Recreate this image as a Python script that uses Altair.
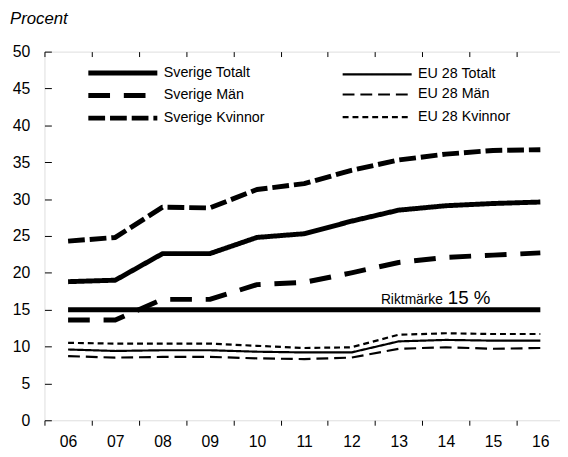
import altair as alt
import pandas as pd

years = ["06", "07", "08", "09", "10", "11", "12", "13", "14", "15", "16"]
sverige_totalt = [18.8, 19.0, 22.6, 22.6, 24.8, 25.3, 27.0, 28.5, 29.1, 29.4, 29.6]
sverige_man = [13.6, 13.6, 16.4, 16.4, 18.4, 18.7, 20.0, 21.4, 22.1, 22.4, 22.7]
sverige_kvinnor = [24.3, 24.8, 28.9, 28.8, 31.3, 32.1, 33.9, 35.3, 36.1, 36.6, 36.7]
eu_totalt = [9.6, 9.4, 9.5, 9.5, 9.3, 9.2, 9.2, 10.7, 10.9, 10.8, 10.8]
eu_man = [8.7, 8.5, 8.6, 8.6, 8.4, 8.3, 8.5, 9.7, 9.9, 9.7, 9.8]
eu_kvinnor = [10.5, 10.4, 10.4, 10.4, 10.1, 9.8, 9.9, 11.6, 11.8, 11.7, 11.7]
target = 15
y_ticks = [0, 5, 10, 15, 20, 25, 30, 35, 40, 45, 50]

# legend fills column by column: Sverige column first, then EU column
series_order = ["Sverige Totalt", "Sverige Män", "Sverige Kvinnor",
                "EU 28 Totalt", "EU 28 Män", "EU 28 Kvinnor"]
series_values = {
    "Sverige Totalt": sverige_totalt,
    "Sverige Män": sverige_man,
    "Sverige Kvinnor": sverige_kvinnor,
    "EU 28 Totalt": eu_totalt,
    "EU 28 Män": eu_man,
    "EU 28 Kvinnor": eu_kvinnor,
}

rows = []
for name in series_order:
    for y, v in zip(years, series_values[name]):
        rows.append({"year": y, "value": v, "series": name})
df = pd.DataFrame(rows)
df_target = pd.DataFrame({"year": years, "value": [target] * len(years)})
df_label = pd.DataFrame({"year": ["14"], "value": [target]})

FONT = "Liberation Sans"

dashes = [[1, 0], [22, 14], [17, 5], [1, 0], [12, 6], [6, 4]]
widths = [5, 5, 5, 2.2, 2.2, 2.2]

xscale = alt.Scale(type="band", domain=years, range=[0, 527], paddingInner=0, paddingOuter=0)
yscale = alt.Scale(domain=[0, 50])

x_axis = alt.Axis(
    title=None, domain=False, tickBand="extent", tickSize=5,
    tickColor="black", labelAngle=0, labelFont=FONT, labelFontSize=16,
    labelColor="black", labelPadding=9,
    grid=True, gridDash=[5, 3000], gridColor="black", gridOpacity=1, gridWidth=1)
y_axis = alt.Axis(
    title=None, domain=False, values=y_ticks, ticks=True, tickSize=0,
    labelFont=FONT, labelFontSize=16, labelColor="black",
    labelPadding=15, labelOverlap=False,
    grid=True, gridDash=[7, 3000], gridColor="black", gridOpacity=1, gridWidth=1)

x_enc = alt.X("year:O", scale=xscale, axis=x_axis)
y_enc = alt.Y("value:Q", scale=yscale, axis=y_axis)

legend = alt.Legend(title=None, orient="none", legendX=67, legendY=9,
                    columns=2, columnPadding=74, rowPadding=0,
                    symbolType="M-3.5,0L3.5,0", symbolSize=400,
                    symbolStrokeColor="black", symbolFillColor="transparent",
                    labelFont=FONT, labelFontSize=14.5, labelColor="black",
                    labelOffset=29, padding=0)

lines = alt.Chart(df).mark_line(color="black", strokeCap="butt", strokeJoin="round").encode(
    x=x_enc,
    y=y_enc,
    strokeDash=alt.StrokeDash("series:N", scale=alt.Scale(domain=series_order, range=dashes),
                              legend=legend),
    strokeWidth=alt.StrokeWidth("series:N",
                                scale=alt.Scale(type="ordinal", domain=series_order, range=widths),
                                legend=legend),
)

target_line = alt.Chart(df_target).mark_line(color="black", strokeWidth=5).encode(
    x=x_enc, y=y_enc)

lab1 = alt.Chart(df_label).mark_text(text="Riktmärke", font=FONT, fontSize=14, align="right",
                                     baseline="alphabetic", dx=-3, dy=-6, color="black").encode(
    x=x_enc, y=y_enc)
lab2 = alt.Chart(df_label).mark_text(text="15 %", font=FONT, fontSize=19, align="left",
                                     baseline="alphabetic", dx=2, dy=-6, color="black").encode(
    x=x_enc, y=y_enc)

chart = alt.layer(lines, target_line, lab1, lab2).properties(
    width=523, height=374,
    title=alt.TitleParams("Procent", anchor="start", frame="group", font=FONT, fontSize=17,
                          fontStyle="italic", fontWeight="normal", color="black",
                          baseline="alphabetic", dx=-35, offset=3),
    autosize=alt.AutoSizeParams(type="none"),
    padding={"left": 37, "top": 41, "right": 0, "bottom": 34},
).configure_view(stroke="black", strokeWidth=1.2).configure(background="white")

chart.save("out.html", embed_options={"renderer": "svg", "actions": False})
